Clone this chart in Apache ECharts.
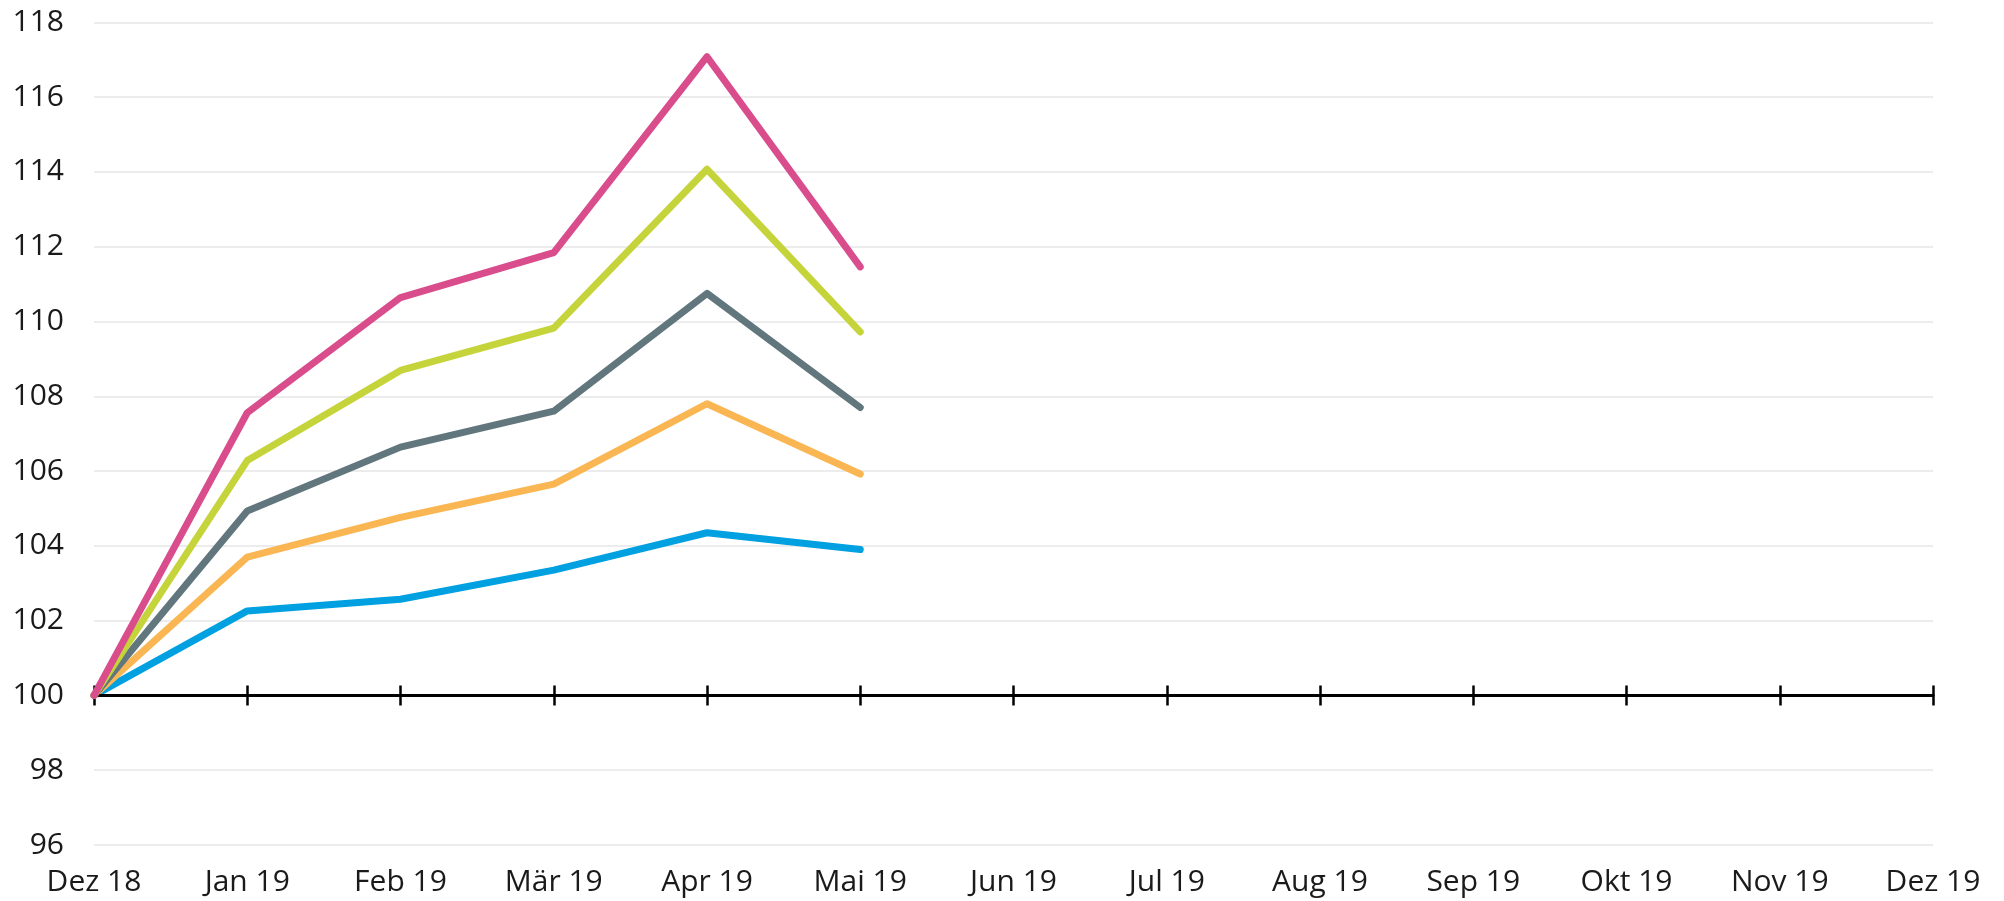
<!DOCTYPE html>
<html>
<head>
<meta charset="utf-8">
<script src="https://cdn.jsdelivr.net/npm/echarts@6/dist/echarts.min.js"></script>
<style>
html,body{margin:0;padding:0;background:#fff;}
#c{width:2004px;height:901px;}
</style>
</head>
<body>
<div id="c"></div>
<script>
const categories = ['Dez 18','Jan 19','Feb 19','Mär 19','Apr 19','Mai 19','Jun 19','Jul 19','Aug 19','Sep 19','Okt 19','Nov 19','Dez 19'];
const pinkSeries   = [100, 107.56, 110.64, 111.84, 117.08, 111.46];
const limeSeries   = [100, 106.28, 108.69, 109.82, 114.07, 109.72];
const graySeries   = [100, 104.93, 106.64, 107.60, 110.75, 107.70];
const orangeSeries = [100, 103.70, 104.76, 105.65, 107.80, 105.92];
const blueSeries   = [100, 102.26, 102.57, 103.35, 104.35, 103.90];
const yMin = 96, yMax = 118, yStep = 2, baseLine = 100;

(function () {
const chart = echarts.init(document.getElementById('c'));
const gTop = 22.3, gBottomPx = 845, gLeft = 94, gRight = 71;
const h = gBottomPx - gTop;
const h2 = h * (yMax - baseLine) / (yMax - yMin);
const font = '"Open Sans", "Noto Sans", sans-serif';

function line(data, color, z) {
  return {
    type: 'line', data: data, xAxisIndex: 0, yAxisIndex: 0,
    symbol: 'none', z: z,
    lineStyle: {color: color, width: 7, cap: 'round', join: 'round'},
    itemStyle: {color: color}
  };
}

chart.setOption({
  animation: false,
  backgroundColor: '#fff',
  grid: [
    {left: gLeft, right: gRight, top: gTop, height: h},
    {left: gLeft, right: gRight, top: gTop, height: h2}
  ],
  xAxis: [
    {type: 'category', gridIndex: 0, data: categories, boundaryGap: false,
     axisLine: {show: false}, axisTick: {show: false},
     axisLabel: {color: '#1a1a1a', fontSize: 30, fontFamily: font, margin: 22, interval: 0}},
    {type: 'category', gridIndex: 1, data: categories, boundaryGap: false, position: 'bottom',
     axisLine: {show: true, lineStyle: {color: '#000', width: 3.2}},
     axisTick: {show: true, inside: false, length: 10, interval: 0, lineStyle: {color: '#000', width: 2.5}},
     axisLabel: {show: false}, splitLine: {show: false}, z: 5},
    {type: 'category', gridIndex: 1, data: categories, boundaryGap: false, position: 'bottom',
     axisLine: {show: false},
     axisTick: {show: true, inside: true, length: 10, interval: 0, lineStyle: {color: '#000', width: 2.5}},
     axisLabel: {show: false}, splitLine: {show: false}, z: 5}
  ],
  yAxis: [
    {type: 'value', gridIndex: 0, min: yMin, max: yMax, interval: yStep,
     axisLine: {show: false}, axisTick: {show: false},
     axisLabel: {color: '#1a1a1a', fontSize: 30, fontFamily: font, margin: 30},
     splitLine: {lineStyle: {color: '#e6e6e6', width: 1.5}}},
    {type: 'value', gridIndex: 1, min: baseLine, max: yMax, show: false}
  ],
  series: [
    line(blueSeries, '#00A0E1', 3),
    line(orangeSeries, '#FAB652', 4),
    line(graySeries, '#62777D', 5),
    line(limeSeries, '#C6D43B', 6),
    line(pinkSeries, '#D94D8C', 7)
  ]
});
})();
</script>
</body>
</html>
